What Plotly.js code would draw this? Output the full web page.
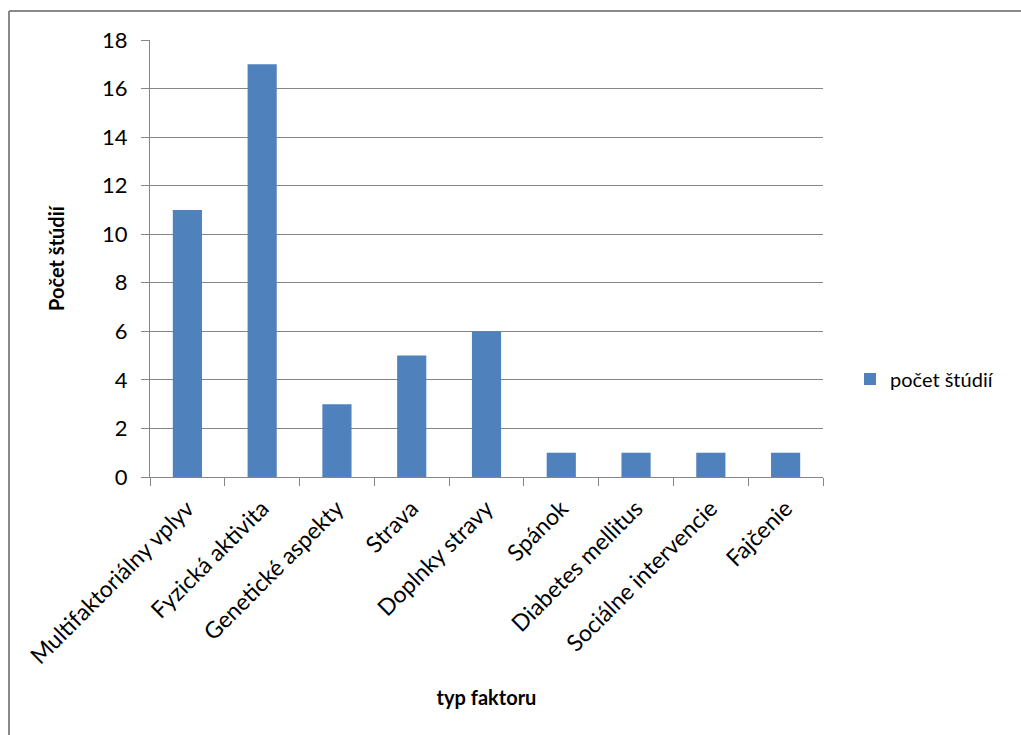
<!DOCTYPE html>
<html>
<head>
<meta charset="utf-8">
<script src="https://cdn.plot.ly/plotly-3.0.1.min.js"></script>
<style>html,body{margin:0;padding:0;background:#fff;overflow:hidden;}#chart{width:1021px;height:735px;}</style>
</head>
<body>
<div id="chart"></div>
<script>
const categories = ["Multifaktoriálny vplyv", "Fyzická aktivita", "Genetické aspekty", "Strava", "Doplnky stravy", "Spánok", "Diabetes mellitus", "Sociálne intervencie", "Fajčenie"];
const counts = [11, 17, 3, 5, 6, 1, 1, 1, 1];
const seriesName = "počet štúdií";
const yTicks = [0, 2, 4, 6, 8, 10, 12, 14, 16, 18];

const fontFam = "Lato, Open Sans, sans-serif";
const L = 150, R = 198, T = 40, B = 258, W = 1021, H = 735;
const pw = W - L - R, ph = H - T - B;

const data = [{
  type: "bar",
  x: categories,
  y: counts,
  name: seriesName,
  marker: {color: "#4F81BD"},
  showlegend: true
}];

const layout = {
  width: W, height: H,
  margin: {l: L, r: R, t: T, b: B, pad: 0},
  paper_bgcolor: "#fff",
  plot_bgcolor: "#fff",
  bargap: 0.61,
  font: {family: fontFam, color: "#000"},
  xaxis: {
    type: "category",
    tickangle: -45,
    tickson: "boundaries",
    ticks: "outside",
    ticklen: 8,
    tickcolor: "#868686",
    showline: true,
    linecolor: "#868686",
    linewidth: 1,
    showgrid: false,
    tickfont: {size: 23, family: fontFam},
    ticklabelstandoff: 8,
    title: {text: "typ faktoru", font: {size: 20, family: fontFam, weight: "bold"}, standoff: 22},
    automargin: false
  },
  yaxis: {
    range: [0, 18],
    tickvals: yTicks,
    ticks: "outside",
    ticklen: 8,
    tickcolor: "#868686",
    showline: true,
    linecolor: "#868686",
    gridcolor: "#868686",
    gridwidth: 1,
    zeroline: false,
    tickfont: {size: 22, family: fontFam},
    ticklabelstandoff: 9,
    title: {text: "Počet štúdií", font: {size: 20, family: fontFam, weight: "bold"}, standoff: 32},
    automargin: false
  },
  legend: {
    x: (850 - L) / pw, y: (477 - 379) / ph, xanchor: "left", yanchor: "middle",
    font: {size: 20, family: fontFam},
    bgcolor: "rgba(0,0,0,0)"
  },
  shapes: [
    {type: "line", xref: "paper", yref: "paper",
     x0: (9 - L) / pw, x1: (1040 - L) / pw, y0: (477 - 11) / ph, y1: (477 - 11) / ph,
     line: {color: "#898989", width: 2}, layer: "below"},
    {type: "line", xref: "paper", yref: "paper",
     x0: (9 - L) / pw, x1: (9 - L) / pw, y0: (477 - 11) / ph, y1: (477 - 760) / ph,
     line: {color: "#898989", width: 2}, layer: "below"}
  ]
};

Plotly.newPlot("chart", data, layout, {displayModeBar: false, staticPlot: true});
</script>
</body>
</html>
